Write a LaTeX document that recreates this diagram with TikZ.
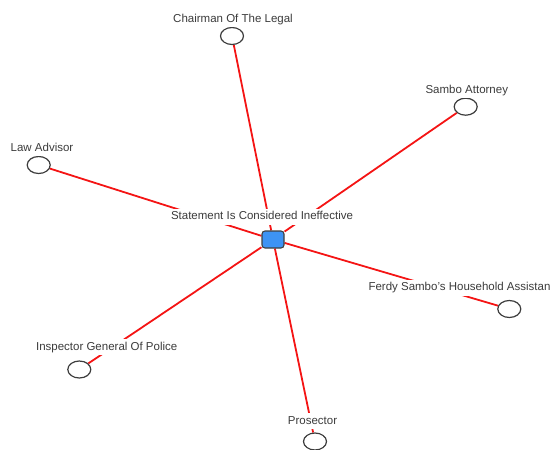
\documentclass[tikz,border=0pt]{standalone}
\usepackage{fontspec}
\setmainfont{Liberation Sans}
\usetikzlibrary{shapes.geometric,backgrounds}
\definecolor{f41414}{HTML}{F41414}
\definecolor{3d93f4}{HTML}{3D93F4}
\definecolor{3c3c3c}{HTML}{3C3C3C}

\begin{document}
\begin{tikzpicture}[x=1pt,y=-1pt,
    endpt/.style={ellipse,draw=3c3c3c,line width=1.2pt,fill=white,minimum width=23pt,minimum height=17pt,inner sep=0pt},
    hub/.style={rectangle,rounded corners=3pt,draw=black!75,line width=1.1pt,fill=3d93f4,minimum width=22pt,minimum height=17pt,inner sep=0pt},
    txt/.style={fill=white,text=3c3c3c,font=\fontsize{11.5}{13}\selectfont,text height=9pt,text depth=3pt,inner xsep=1pt,inner ysep=2pt},
    link/.style={f41414,line width=1.8pt}]
\useasboundingbox(0,0)rectangle(550,450);
\clip(0,0)rectangle(550,450);
\node[hub](stmt)at(273,239.5){};
\node[endpt](chair)at(232,36){};
\node[endpt](attorney)at(465.7,106.7){};
\node[endpt](advisor)at(38.7,165){};
\node[endpt](assistant)at(509.3,309){};
\node[endpt](inspector)at(79.3,369.5){};
\node[endpt](prosector)at(315,441.5){};
\begin{scope}[on background layer]
\foreach \n in {chair,attorney,advisor,assistant,inspector,prosector} {
        \draw[link](stmt)--(\n);
    }
\end{scope}
\node[txt](stmt-l)at(262,216.5){Statement Is Considered Ineffective};
\node[txt](chair-l)at(233,19.3){Chairman Of The Legal};
\node[txt](attorney-l)at(466.8,90){Sambo Attorney};
\node[txt](advisor-l)at(42,148.3){Law Advisor};
\node[txt,anchor=west](assistant-l)at(367.3,287.7){Ferdy Sambo's Household Assistant};
\node[txt](inspector-l)at(106.7,347){Inspector General Of Police};
\node[txt](prosector-l)at(312.5,421){Prosector};
\end{tikzpicture}
\end{document}
